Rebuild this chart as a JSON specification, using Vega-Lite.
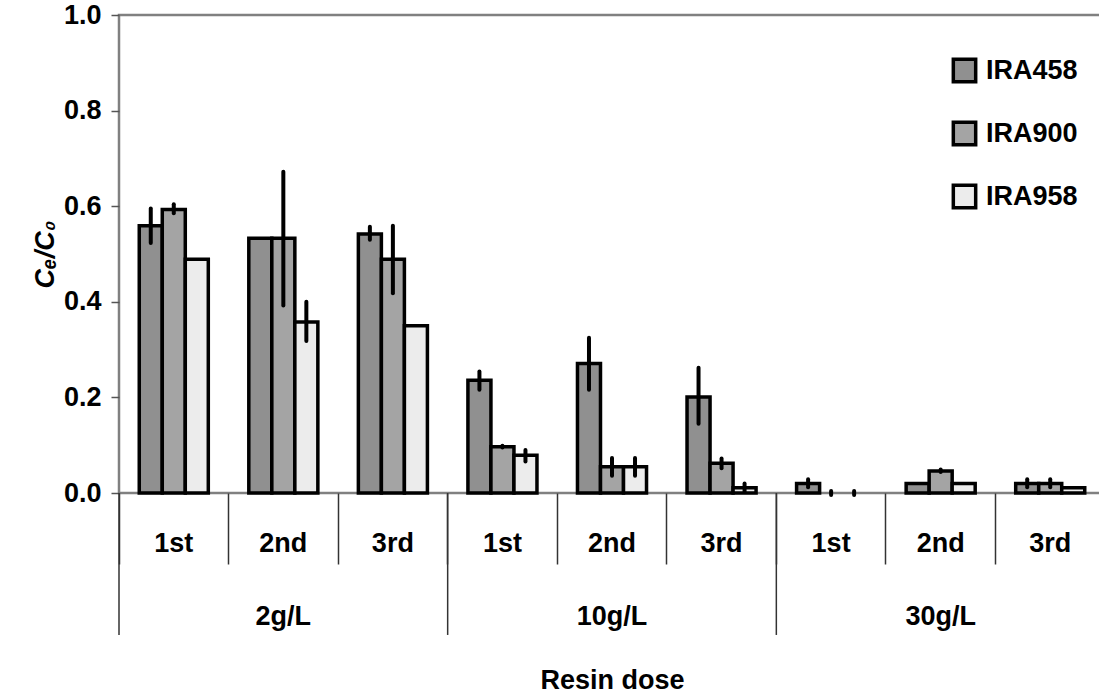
{
  "$schema": "https://vega.github.io/schema/vega-lite/v6.json",
  "autosize": "none",
  "width": 986,
  "height": 478,
  "padding": {"left": 119, "top": 15, "right": 0, "bottom": 205},
  "background": "white",
  "config": {
    "font": "Liberation Sans",
    "view": {"stroke": "#808080", "strokeWidth": 2.5},
    "axis": {"labelFont": "Liberation Sans", "labelFontWeight": "bold", "labelFontSize": 27, "labelColor": "black", "titleFont": "Liberation Sans", "titleFontWeight": "bold", "titleFontSize": 27, "titleColor": "black", "grid": false}
  },
  "datasets": {
    "bars": [
      {"cat": "2g/L 1st", "resin": "IRA458", "v": 0.559, "lo": 0.523, "hi": 0.595},
      {"cat": "2g/L 1st", "resin": "IRA900", "v": 0.593, "lo": 0.585, "hi": 0.604},
      {"cat": "2g/L 1st", "resin": "IRA958", "v": 0.489, "lo": null, "hi": null},
      {"cat": "2g/L 2nd", "resin": "IRA458", "v": 0.533, "lo": null, "hi": null},
      {"cat": "2g/L 2nd", "resin": "IRA900", "v": 0.533, "lo": 0.392, "hi": 0.672},
      {"cat": "2g/L 2nd", "resin": "IRA958", "v": 0.358, "lo": 0.318, "hi": 0.400},
      {"cat": "2g/L 3rd", "resin": "IRA458", "v": 0.542, "lo": 0.530, "hi": 0.557},
      {"cat": "2g/L 3rd", "resin": "IRA900", "v": 0.489, "lo": 0.418, "hi": 0.559},
      {"cat": "2g/L 3rd", "resin": "IRA958", "v": 0.350, "lo": null, "hi": null},
      {"cat": "10g/L 1st", "resin": "IRA458", "v": 0.236, "lo": 0.216, "hi": 0.254},
      {"cat": "10g/L 1st", "resin": "IRA900", "v": 0.097, "lo": 0.095, "hi": 0.099},
      {"cat": "10g/L 1st", "resin": "IRA958", "v": 0.079, "lo": 0.066, "hi": 0.090},
      {"cat": "10g/L 2nd", "resin": "IRA458", "v": 0.271, "lo": 0.216, "hi": 0.325},
      {"cat": "10g/L 2nd", "resin": "IRA900", "v": 0.055, "lo": 0.036, "hi": 0.073},
      {"cat": "10g/L 2nd", "resin": "IRA958", "v": 0.055, "lo": 0.036, "hi": 0.073},
      {"cat": "10g/L 3rd", "resin": "IRA458", "v": 0.201, "lo": 0.145, "hi": 0.262},
      {"cat": "10g/L 3rd", "resin": "IRA900", "v": 0.062, "lo": 0.052, "hi": 0.072},
      {"cat": "10g/L 3rd", "resin": "IRA958", "v": 0.011, "lo": 0.003, "hi": 0.020},
      {"cat": "30g/L 1st", "resin": "IRA458", "v": 0.020, "lo": 0.012, "hi": 0.029},
      {"cat": "30g/L 1st", "resin": "IRA900", "v": 0.0, "lo": -0.004, "hi": 0.004},
      {"cat": "30g/L 1st", "resin": "IRA958", "v": 0.0, "lo": -0.004, "hi": 0.004},
      {"cat": "30g/L 2nd", "resin": "IRA458", "v": 0.020, "lo": null, "hi": null},
      {"cat": "30g/L 2nd", "resin": "IRA900", "v": 0.046, "lo": 0.044, "hi": 0.049},
      {"cat": "30g/L 2nd", "resin": "IRA958", "v": 0.020, "lo": null, "hi": null},
      {"cat": "30g/L 3rd", "resin": "IRA458", "v": 0.020, "lo": 0.012, "hi": 0.029},
      {"cat": "30g/L 3rd", "resin": "IRA900", "v": 0.020, "lo": 0.012, "hi": 0.029},
      {"cat": "30g/L 3rd", "resin": "IRA958", "v": 0.011, "lo": null, "hi": null}
    ],
    "doses": [
      {"dose": "2g/L", "first": "2g/L 1st", "mid": "2g/L 2nd"},
      {"dose": "10g/L", "first": "10g/L 1st", "mid": "10g/L 2nd"},
      {"dose": "30g/L", "first": "30g/L 1st", "mid": "30g/L 2nd"}
    ]
  },
  "layer": [
    {
      "data": {"name": "bars"},
      "transform": [{"filter": "datum.v > 0"}],
      "mark": {"type": "bar", "stroke": "black", "strokeWidth": 3.5},
      "encoding": {
        "x": {
          "field": "cat", "type": "nominal",
          "scale": {"domain": ["2g/L 1st", "2g/L 2nd", "2g/L 3rd", "10g/L 1st", "10g/L 2nd", "10g/L 3rd", "30g/L 1st", "30g/L 2nd", "30g/L 3rd"], "paddingInner": 0, "paddingOuter": 0},
          "axis": {
            "title": "Resin dose", "titleY": 187, "titleBaseline": "middle",
            "labelExpr": "split(datum.label, ' ')[1]", "labelAngle": 0,
            "bandPosition": 0, "tickSize": 71, "tickColor": "#333333", "tickWidth": 1.5,
            "labelPadding": -34, "domain": false
          }
        },
        "xOffset": {"field": "resin", "type": "nominal", "scale": {"paddingInner": 0, "paddingOuter": 0.88}},
        "y": {
          "field": "v", "type": "quantitative",
          "scale": {"domain": [0, 1], "nice": false},
          "axis": {
            "title": "Cₑ/C₀", "titleFontStyle": "italic", "titleX": -74, "titleY": 239, "titleAlign": "center", "titleBaseline": "middle",
            "values": [0, 0.2, 0.4, 0.6, 0.8, 1.0], "format": ".1f",
            "tickSize": 8, "tickColor": "#555555", "tickWidth": 1.5, "labelPadding": 10, "domain": false
          }
        },
        "fill": {
          "field": "resin", "type": "nominal",
          "scale": {"domain": ["IRA458", "IRA900", "IRA958"], "range": ["#909090", "#a4a4a4", "#ececec"]},
          "legend": {
            "title": null, "orient": "none", "legendX": 832, "legendY": 42,
            "symbolType": "square", "symbolSize": 500, "symbolStrokeColor": "black", "symbolStrokeWidth": 3.5, "symbolOpacity": 1,
            "labelFont": "Liberation Sans", "labelFontWeight": "bold", "labelFontSize": 27, "labelColor": "black",
            "labelOffset": 8, "rowPadding": 26, "padding": 0
          }
        }
      }
    },
    {
      "data": {"name": "bars"},
      "transform": [{"filter": "isValid(datum.lo)"}],
      "mark": {"type": "rule", "color": "black", "strokeWidth": 4, "strokeCap": "round"},
      "encoding": {
        "x": {"field": "cat", "type": "nominal"},
        "xOffset": {"field": "resin", "type": "nominal"},
        "y": {"field": "lo", "type": "quantitative"},
        "y2": {"field": "hi"}
      }
    },
    {
      "data": {"name": "doses"},
      "mark": {"type": "rule", "color": "#333333", "strokeWidth": 1.5},
      "encoding": {
        "x": {"field": "first", "type": "nominal", "bandPosition": 0},
        "y": {"datum": 0},
        "y2": {"datum": -0.297}
      }
    },
    {
      "data": {"name": "doses"},
      "mark": {"type": "text", "font": "Liberation Sans", "fontWeight": "bold", "fontSize": 27, "color": "black", "baseline": "middle"},
      "encoding": {
        "x": {"field": "mid", "type": "nominal"},
        "y": {"datum": -0.259},
        "text": {"field": "dose"}
      }
    }
  ]
}
